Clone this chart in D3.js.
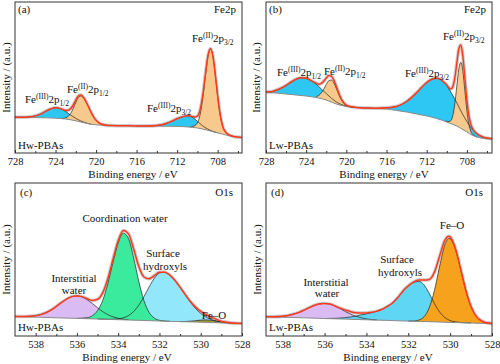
<!DOCTYPE html>
<html>
<head>
<meta charset="utf-8">
<script src="https://cdn.jsdelivr.net/npm/d3@7"></script>
<style>
  body { margin: 0; background: #fff; }
  svg { display: block; font-family: "Liberation Serif", "Times New Roman", serif; }
</style>
</head>
<body>
<div id="chart"></div>
<script>
// ---- tick labels ----
const feTicks = [728, 724, 720, 716, 712, 708];
const feMinor = [726, 722, 718, 714, 710, 706];
const oTicks = [538, 536, 534, 532, 530, 528];
const oMinor = [537, 535, 533, 531, 529];

// ---- (a) Hw-PBAs, Fe2p : [binding energy, intensity] ----
const aBase = [[728,35.8],[727,35.6],[726,35.4],[725,35.2],[724.5,35],[724,34.8],[723.5,34.5],[723,34],[722.5,33.2],[722,32.2],[721.5,31],[721,29.8],[720.5,28.8],[720,28.2],[719,27.6],[718,27.3],[717,27.2],[716,27.1],[715,27],[714,26.9],[713,26.8],[712,26.6],[711.5,26.4],[711,26.1],[710.5,25.7],[710,25],[709.5,24],[709,22.8],[708.5,21.4],[708,20.1],[707.5,18.8],[707,17.6],[706.5,16.6],[706,15.9],[705.6,15.5]];
const aFe3_12 = [[728,35.8],[727.5,35.75],[727,35.8],[726.5,36.2],[726,37.1],[725.5,38.9],[725,41.6],[724.5,44],[724,45.3],[723.5,44.3],[723,41.5],[722.5,37.9],[722,34.6],[721.5,32],[721,30.1],[720.5,28.8]];
const aFe2_12 = [[723.5,34.6],[723.25,34.6],[723,35.1],[722.75,36.6],[722.5,39.7],[722.25,44.6],[722,50.6],[721.75,55.4],[721.5,57],[721.25,55.2],[721,51.2],[720.75,46.1],[720.5,40.7],[720.25,36.2],[720,32.7],[719.75,30.4],[719.5,29],[719,27.8],[718.5,27.45]];
const aFe3_32 = [[716,27.1],[715,27.1],[714,27.6],[713.5,28.3],[713,29.8],[712.5,31.9],[712,34.3],[711.5,36.1],[711,37.1],[710.5,35.7],[710,31.7],[709.5,27.3],[709,24],[708.5,21.7],[708,20.2]];
const aFe2_32 = [[710.7,26.2],[710.45,26.6],[710.2,27.8],[709.95,31.1],[709.7,40.1],[709.45,56.3],[709.2,77.6],[708.95,96.7],[708.7,104],[708.45,95.3],[708.2,74.9],[707.95,52.4],[707.7,35],[707.45,24.9],[707.2,20.6],[706.95,18.5],[706.7,17.4],[706.45,16.5]];
const aEnv = [[728,35.8],[727.5,35.75],[727,35.8],[726.5,36.2],[726,37.1],[725.5,38.9],[725,41.6],[724.5,44],[724,45.3],[723.5,44.4],[723.25,43.4],[723,42.6],[722.75,42.7],[722.5,44.4],[722.25,48],[722,53],[721.75,57],[721.5,58],[721.25,55.8],[721,51.5],[720.75,46.3],[720.5,40.8],[720.25,36.2],[720,32.7],[719.75,30.4],[719.5,29],[719,27.8],[718.5,27.45],[718,27.3],[717,27.2],[716,27.1],[715,27.1],[714,27.6],[713.5,28.3],[713,29.8],[712.5,31.9],[712,34.3],[711.5,36.1],[711,37.2],[710.7,37],[710.45,36.3],[710.2,35.9],[709.95,37.4],[709.7,44.6],[709.45,59.3],[709.2,79.5],[708.95,97.8],[708.7,104.6],[708.45,95.6],[708.2,75],[707.95,52.4],[707.7,35],[707.45,24.9],[707.2,20.6],[706.95,18.5],[706.7,17.4],[706.45,16.5],[706,15.9],[705.6,15.5]];

// ---- (b) Lw-PBAs, Fe2p ----
const bBase = [[728,60.5],[727,60],[726,59],[725,58],[724,57],[723,55.5],[722.5,54.5],[722,53],[721.5,51],[721,49],[720.5,47.5],[720,46.5],[719,45.5],[718,45],[717,44.5],[716,44],[715,42.5],[714,41],[713,39],[712,37],[711,34.5],[710,31],[709.5,29],[709,27],[708.5,24],[708,21],[707.5,18],[707,16],[706.5,14.8],[706,14.2],[705.5,14]];
const bFe3_12 = [[728,61],[727.5,61.2],[727,62.8],[726.5,64.8],[726,67.6],[725.5,71],[725,73.8],[724.5,75.3],[724,74.7],[723.5,72.1],[723,68.8],[722.5,64.1],[722,59.4],[721.5,54.9],[721,51.1],[720.5,48.5],[720,46.9],[719,45.5]];
const bFe2_12 = [[723,56.5],[722.75,57.5],[722.5,60],[722.25,63.8],[722,68.6],[721.75,72.2],[721.5,73],[721.25,70.2],[721,64.6],[720.75,58.3],[720.5,53],[720.25,49.5],[720,47.5],[719.5,46.1],[719,45.5]];
const bFe3_32 = [[719,45.5],[718,45],[717,44.7],[716,45.2],[715,46.5],[714,51.5],[713,60.4],[712.5,65.7],[712,70.5],[711.5,73.8],[711,74.8],[710.5,72.7],[710,67.2],[709.5,59.2],[709,50.1],[708.5,40.2],[708,31.5],[707.5,24.2],[707,19.3],[706.5,16.4],[706,14.9],[705.5,14.3]];
const bFe2_32 = [[710.2,31.7],[710,31.7],[709.8,31.4],[709.6,32.3],[709.4,37.5],[709.2,49.3],[709,67],[708.8,84],[708.6,90.6],[708.4,81.6],[708.2,62.2],[708,42.5],[707.8,28.7],[707.6,21.5],[707.4,18.3],[707.2,17],[707,16]];
const bEnv = [[728,61],[727.5,61.2],[727,62.8],[726.5,64.8],[726,67.6],[725.5,71],[725,73.8],[724.5,75.3],[724,74.8],[723.5,72.3],[723,69.8],[722.75,68.8],[722.5,69.6],[722.25,71.8],[722,75],[721.75,77.4],[721.5,76.9],[721.25,73.2],[721,66.7],[720.75,59.8],[720.5,54],[720.25,50.2],[720,47.9],[719.5,46.2],[719,45.5],[718,45],[717,44.7],[716,45.2],[715,46.5],[714,51.5],[713,60.4],[712.5,65.7],[712,70.5],[711.5,73.8],[711,74.8],[710.5,72.7],[710.2,70],[710,67.9],[709.8,65.5],[709.6,63.9],[709.4,66.4],[709.2,75.3],[709,90.1],[708.8,104.3],[708.6,108.1],[708.4,96.5],[708.2,74.8],[708,52.9],[707.8,37.2],[707.6,28.4],[707.4,23.8],[707.2,21.3],[707,19.3],[706.5,16.4],[706,14.9],[705.5,14.3]];

// ---- (c) Hw-PBAs, O1s ----
const cBase = [[539,19.5],[538,18.9],[537,18.2],[536,17.6],[535,17],[534,16.3],[533,15.7],[532,15],[531,14.4],[530,13.8],[529,13.1],[528,12.5]];
const cInter = [[538.5,19.5],[538,20.3],[537.75,21.4],[537.5,23.3],[537.25,26],[537,29.5],[536.75,33.4],[536.5,36.8],[536.25,39.4],[536,40.1],[535.75,39.1],[535.5,36.2],[535.25,32.5],[535,28.3],[534.75,24.4],[534.5,21.3],[534.25,19.2],[534,17.7],[533.5,16.3]];
const cCoord = [[536,17.6],[535.5,18.3],[535.25,20.3],[535,25.4],[534.75,35.6],[534.5,52.4],[534.25,73.7],[534,93],[533.75,102.8],[533.5,97.4],[533.25,78.1],[533,54.4],[532.75,35.2],[532.5,23.5],[532.25,17.9],[532,15.7],[531.5,14.7]];
const cSurf = [[535,17],[534.5,16.7],[534.25,16.8],[534,17.1],[533.75,18.2],[533.5,20.4],[533.25,24.5],[533,30.8],[532.75,39.4],[532.5,49.1],[532.25,57.7],[532,63],[531.75,63.7],[531.5,60.8],[531.25,55.5],[531,48.6],[530.75,41.1],[530.5,33.7],[530.25,27.5],[530,22.6],[529.75,19],[529.5,16.6],[529.25,15],[529,13.9],[528.5,13]];
const cFeO = [[531,14.4],[530.5,14.8],[530.25,15.3],[530,15.9],[529.75,16.1],[529.5,15.8],[529.25,15],[529,14],[528.75,13.4],[528.5,12.9],[528,12.5]];
const cEnv = [[539,19.5],[538.5,19.5],[538,20.3],[537.75,21.4],[537.5,23.3],[537.25,26],[537,29.5],[536.75,33.4],[536.5,36.8],[536.25,39.4],[536,40.1],[535.75,39.4],[535.5,37.2],[535.25,35.6],[535,36.7],[534.75,43.2],[534.5,57.2],[534.25,76.7],[534,95.2],[533.75,105.6],[533.5,102.1],[533.25,86.9],[533,69.5],[532.75,59],[532.5,57.2],[532.25,60.4],[532,63.7],[531.75,63.8],[531.5,60.8],[531.25,55.5],[531,48.7],[530.75,41.4],[530.5,34.4],[530.25,28.9],[530,24.7],[529.75,21.5],[529.5,18.9],[529.25,16.7],[529,14.8],[528.75,13.8],[528.5,13.1],[528,12.5]];

// ---- (d) Lw-PBAs, O1s ----
const dBase = [[538.8,19.3],[538,18.8],[537,18.2],[536,17.5],[535,16.9],[534,16.2],[533,15.6],[532,14.9],[531,14.3],[530,13.6],[529,13],[528,12.3]];
const dInter = [[538.5,19.2],[538,19.7],[537.75,20.4],[537.5,21.7],[537.25,23.4],[537,25.7],[536.75,28.2],[536.5,30.5],[536.25,32.1],[536,32.5],[535.75,31.8],[535.5,29.8],[535.25,27.3],[535,24.4],[534.75,21.8],[534.5,19.7],[534.25,18.2],[534,17.1],[533.5,16.1]];
const dSurf = [[536,17.5],[535.5,17.7],[535,18.4],[534.5,20],[534.25,21.1],[534,22.2],[533.75,23.3],[533.5,24.7],[533.25,26.7],[533,29.6],[532.75,33],[532.5,38.4],[532.25,45.1],[532,50.1],[531.75,53.6],[531.5,54.6],[531.25,51.2],[531,42.6],[530.75,32.4],[530.5,23.9],[530.25,18.4],[530,15.4],[529.75,14.1],[529.5,13.5],[529,13]];
const dFeO = [[532,14.9],[531.75,15],[531.5,15.9],[531.25,19.2],[531,28.2],[530.75,45.6],[530.5,69.9],[530.25,91.3],[530.05,97.6],[529.75,86.9],[529.5,66.9],[529.25,45.5],[529,29.3],[528.75,19.6],[528.5,15],[528.25,13.2],[528,12.5]];
const dEnv = [[538.8,19.3],[538.5,19.2],[538,19.7],[537.75,20.4],[537.5,21.7],[537.25,23.4],[537,25.7],[536.75,28.2],[536.5,30.5],[536.25,32.1],[536,32.6],[535.75,31.9],[535.5,30],[535.25,27.7],[535,25.9],[534.75,24.3],[534.5,23.2],[534.25,22.9],[534,23.1],[533.75,23.7],[533.5,24.9],[533.25,26.7],[533,29.6],[532.75,33],[532.5,38.4],[532.25,45.1],[532,50.1],[531.75,53.9],[531.5,55.9],[531.25,55.9],[531,56.5],[530.75,63.9],[530.5,79.9],[530.25,95.9],[530.05,99.8],[530,99.1],[529.75,87.6],[529.5,67.1],[529.25,45.5],[529,29.3],[528.75,19.6],[528.5,15],[528.25,13.2],[528,12.5]];

const FONT = "Liberation Serif, Times New Roman, serif";
const fe = (ox, half) => [["Fe", ""], [ox, "sup"], ["2p", ""], [half, "sub"]];

const panels = [
  { tag: "(a)", core: "Fe2p", sample: "Hw-PBAs",
    left: 15, right: 242, top: 2, bottom: 153, xDomain: [728, 705.6],
    ticks: feTicks, minor: feMinor, base: aBase, env: aEnv,
    comps: [
      { pts: aFe3_12, fill: "#2ec6f3" }, { pts: aFe3_32, fill: "#2ec6f3" },
      { pts: aFe2_12, fill: "#f8c98c" }, { pts: aFe2_32, fill: "#f8c98c" }],
    ylab: [10, 77.5], xlab: [133, 177.5], tagPos: [18, 13], corePos: [236, 13], samplePos: [18, 149],
    labels: [
      { rich: fe("(III)", "1/2"), x: 25, y: 103 },
      { rich: fe("(II)", "1/2"), x: 67, y: 93 },
      { rich: fe("(III)", "3/2"), x: 147, y: 112 },
      { rich: fe("(II)", "3/2"), x: 192, y: 42 }] },
  { tag: "(b)", core: "Fe2p", sample: "Lw-PBAs",
    left: 266, right: 492, top: 2, bottom: 153, xDomain: [728, 705.5],
    ticks: feTicks, minor: feMinor, base: bBase, env: bEnv,
    comps: [
      { pts: bFe3_12, fill: "#2ec6f3" }, { pts: bFe3_32, fill: "#2ec6f3" },
      { pts: bFe2_12, fill: "#f8c98c" }, { pts: bFe2_32, fill: "#f8c98c" }],
    ylab: [260, 77.5], xlab: [384, 177.5], tagPos: [269, 13], corePos: [486, 13], samplePos: [269, 149],
    labels: [
      { rich: fe("(III)", "1/2"), x: 277, y: 76 },
      { rich: fe("(II)", "1/2"), x: 324, y: 75 },
      { rich: fe("(III)", "3/2"), x: 405, y: 77 },
      { rich: fe("(II)", "3/2"), x: 443, y: 40 }] },
  { tag: "(c)", core: "O1s", sample: "Hw-PBAs",
    left: 15, right: 242, top: 183, bottom: 336, xDomain: [539, 528],
    ticks: oTicks, minor: oMinor, base: cBase, env: cEnv,
    comps: [
      { pts: cInter, fill: "#dbbbf3" }, { pts: cSurf, fill: "#92e7fb" },
      { pts: cCoord, fill: "#3aea9d" }, { pts: cFeO, fill: "#9d9a3c" }],
    ylab: [10, 259.5], xlab: [127, 361], tagPos: [20, 196], corePos: [233, 196], samplePos: [18, 331],
    labels: [
      { text: "Coordination water", x: 125, y: 222 },
      { text: "Surface", x: 163, y: 257 }, { text: "hydroxyls", x: 165, y: 270 },
      { text: "Interstitial", x: 74, y: 282 }, { text: "water", x: 74, y: 294 },
      { text: "Fe\u2013O", x: 214, y: 319 }] },
  { tag: "(d)", core: "O1s", sample: "Lw-PBAs",
    left: 266, right: 492, top: 183, bottom: 336, xDomain: [538.8, 528],
    ticks: oTicks, minor: oMinor, base: dBase, env: dEnv,
    comps: [
      { pts: dInter, fill: "#dbbbf3" }, { pts: dSurf, fill: "#5fd6f4" },
      { pts: dFeO, fill: "#f7a21c" }],
    ylab: [261, 259.5], xlab: [388, 361], tagPos: [271, 196], corePos: [483, 196], samplePos: [269, 331],
    labels: [
      { text: "Fe\u2013O", x: 452, y: 229 },
      { text: "Surface", x: 397, y: 263 }, { text: "hydroxyls", x: 400, y: 276 },
      { text: "Interstitial", x: 326, y: 286 }, { text: "water", x: 327, y: 297 }] }
];

const width = 500, height = 364;
const svg = d3.select("#chart").append("svg")
    .attr("width", width)
    .attr("height", height)
    .attr("viewBox", [0, 0, width, height])
    .attr("font-family", FONT);

function richText(g, x, y, parts) {
  const t = g.append("text").attr("x", x).attr("y", y)
      .attr("font-family", FONT).attr("font-size", 11).attr("fill", "#111");
  let shift = 0;
  parts.forEach(([s, k]) => {
    const target = k === "sup" ? -4 : k === "sub" ? 2.5 : 0;
    t.append("tspan").attr("dy", target - shift).attr("font-size", k ? 7.5 : 11).text(s);
    shift = target;
  });
}

panels.forEach((p, i) => {
  const x = d3.scaleLinear().domain(p.xDomain).range([p.left, p.right]);
  const y = d3.scaleLinear().domain([0, p.bottom - p.top]).range([p.bottom, p.top]);
  const baseAt = d3.scaleLinear().domain(p.base.map(d => d[0])).range(p.base.map(d => d[1]));

  const g = svg.append("g");
  const clipId = "clip" + i;
  g.append("clipPath").attr("id", clipId)
    .append("rect").attr("x", p.left).attr("y", p.top)
    .attr("width", p.right - p.left).attr("height", p.bottom - p.top);
  const plot = g.append("g").attr("clip-path", `url(#${clipId})`);

  const line = d3.line().x(d => x(d[0])).y(d => y(d[1])).curve(d3.curveMonotoneX);
  const area = d3.area().x(d => x(d[0]))
      .y0(d => y(baseAt(d[0]))).y1(d => y(d[1])).curve(d3.curveMonotoneX);

  // raw-data halo under the envelope
  plot.append("path").attr("d", line(p.env))
      .attr("fill", "none").attr("stroke", "#cccccc").attr("stroke-width", 3.5);

  p.comps.forEach(c => {
    plot.append("path").attr("d", area(c.pts)).attr("fill", c.fill);
  });
  p.comps.forEach(c => {
    plot.append("path").attr("d", line(c.pts))
        .attr("fill", "none").attr("stroke", "#222").attr("stroke-width", 0.7);
  });

  plot.append("path").attr("d", line(p.base))
      .attr("fill", "none").attr("stroke", "#8a8a8a").attr("stroke-width", 1);
  plot.append("path").attr("d", line(p.env))
      .attr("fill", "none").attr("stroke", "#ff3b1e").attr("stroke-width", 1.5);

  // axis with inward ticks
  g.append("g")
      .attr("transform", `translate(0,${p.bottom})`)
      .call(d3.axisBottom(x).tickValues(p.ticks).tickSize(-3).tickPadding(5).tickFormat(d3.format("d")))
      .attr("font-family", FONT)
      .call(a => a.select(".domain").remove())
      .call(a => a.selectAll("line").attr("stroke", "#333"))
      .call(a => a.selectAll("text").attr("font-size", 10.5).attr("fill", "#111"));
  g.append("g")
      .attr("transform", `translate(0,${p.bottom})`)
      .call(d3.axisBottom(x).tickValues(p.minor).tickSize(-2).tickFormat(""))
      .call(a => a.select(".domain").remove())
      .call(a => a.selectAll("line").attr("stroke", "#333"));

  g.append("rect")
      .attr("x", p.left).attr("y", p.top)
      .attr("width", p.right - p.left).attr("height", p.bottom - p.top)
      .attr("fill", "none").attr("stroke", "#333").attr("stroke-width", 1);

  const txt = (tx, ty, s, anchor) => g.append("text")
      .attr("x", tx).attr("y", ty).attr("text-anchor", anchor || "start")
      .attr("font-family", FONT).attr("font-size", 11).attr("fill", "#111").text(s);

  txt(p.tagPos[0], p.tagPos[1], p.tag);
  txt(p.corePos[0], p.corePos[1], p.core, "end");
  txt(p.samplePos[0], p.samplePos[1], p.sample);
  txt(p.xlab[0], p.xlab[1], "Binding energy / eV", "middle");
  g.append("text")
      .attr("transform", `translate(${p.ylab[0]},${p.ylab[1]}) rotate(-90)`)
      .attr("text-anchor", "middle").attr("font-family", FONT)
      .attr("font-size", 11).attr("fill", "#111")
      .text("Intensity / (a.u.)");

  p.labels.forEach(l => {
    if (l.rich) richText(g, l.x, l.y, l.rich);
    else txt(l.x, l.y, l.text, "middle");
  });
});
</script>
</body>
</html>
